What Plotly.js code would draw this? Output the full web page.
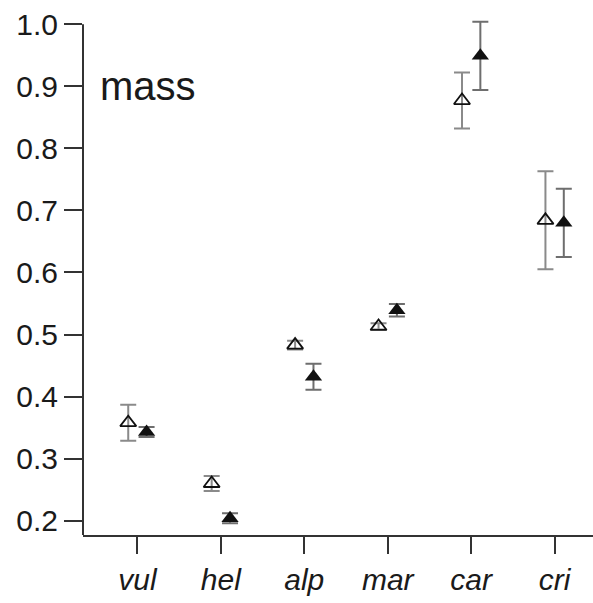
<!DOCTYPE html>
<html>
<head>
<meta charset="utf-8">
<script src="https://cdn.plot.ly/plotly-3.0.1.min.js"></script>
<style>html,body{margin:0;padding:0;background:#fff;}#chart{width:593px;height:603px;}</style>
</head>
<body>
<div id="chart"></div>
<script>
var categories = ["vul", "hel", "alp", "mar", "car", "cri"];
var openValues = [0.358, 0.260, 0.483, 0.513, 0.877, 0.684];
var openErrors = [0.029, 0.012, 0.007, 0.005, 0.045, 0.079];
var filledValues = [0.343, 0.204, 0.432, 0.539, 0.949, 0.680];
var filledErrors = [0.008, 0.008, 0.021, 0.010, 0.055, 0.055];
var yTicks = [0.2, 0.3, 0.4, 0.5, 0.6, 0.7, 0.8, 0.9, 1.0];
var yTickLabels = ["0.2", "0.3", "0.4", "0.5", "0.6", "0.7", "0.8", "0.9", "1.0"];

var idx = categories.map(function (c, i) { return i; });
var shift = 0.11;
var yMin = 0.177, yMax = 1.01;

var traceOpen = {
  type: "scatter", mode: "markers",
  x: idx.map(function (i) { return i - shift; }),
  y: openValues,
  error_y: { type: "data", array: openErrors, visible: true, color: "#8a8a8a", thickness: 2, width: 8 },
  marker: { symbol: "triangle-up-open", size: 14, color: "#111", line: { width: 1.8, color: "#111" } },
  cliponaxis: false, showlegend: false, hoverinfo: "skip"
};
var traceFilled = {
  type: "scatter", mode: "markers",
  x: idx.map(function (i) { return i + shift; }),
  y: filledValues,
  error_y: { type: "data", array: filledErrors, visible: true, color: "#6e6e6e", thickness: 2, width: 8 },
  marker: { symbol: "triangle-up", size: 15, color: "#111", line: { width: 0 } },
  cliponaxis: false, showlegend: false, hoverinfo: "skip"
};

var layout = {
  width: 593, height: 603,
  margin: { l: 83, r: 0, t: 18, b: 68 },
  paper_bgcolor: "#fff", plot_bgcolor: "#fff",
  font: { family: "Liberation Sans, Arial, sans-serif", color: "#1a1a1a" },
  xaxis: {
    range: [-0.652, 5.46], showgrid: false, zeroline: false,
    showline: true, linecolor: "#333", linewidth: 2,
    tickmode: "array", tickvals: idx,
    ticktext: categories.map(function (c) { return "<i>" + c + "</i>"; }),
    ticks: "outside", ticklen: 17, tickwidth: 2, tickcolor: "#333",
    tickfont: { size: 30, family: "Liberation Sans, Arial, sans-serif", color: "#1a1a1a" }
  },
  yaxis: {
    range: [yMin, yMax], showgrid: false, zeroline: false,
    showline: false,
    tickmode: "array", tickvals: yTicks, ticktext: yTickLabels,
    ticks: "outside", ticklen: 18, tickwidth: 2, tickcolor: "#333",
    tickfont: { size: 30, family: "Liberation Sans, Arial, sans-serif", color: "#1a1a1a" }
  },
  shapes: [{
    type: "line", xref: "paper", yref: "y", x0: 0, x1: 0,
    y0: yMin, y1: yTicks[yTicks.length - 1],
    line: { color: "#333", width: 2 }, layer: "above"
  }],
  annotations: [{
    text: "mass", xref: "paper", yref: "y", x: 0.03, y: 0.9,
    xanchor: "left", yanchor: "middle", showarrow: false,
    font: { size: 40, family: "Liberation Sans, Arial, sans-serif", color: "#1a1a1a" }
  }]
};

Plotly.newPlot("chart", [traceOpen, traceFilled], layout, { staticPlot: true, displayModeBar: false });
</script>
</body>
</html>
